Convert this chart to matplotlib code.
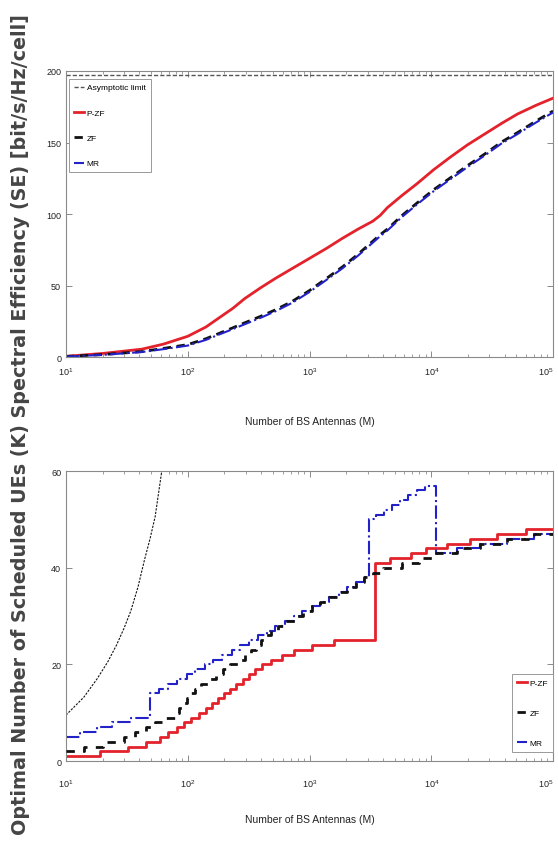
import matplotlib
matplotlib.use("Agg")
import matplotlib.pyplot as plt
import matplotlib.transforms as mtransforms
from matplotlib.ticker import LogLocator, NullFormatter, FixedLocator

plt.rcParams['font.family'] = ['Liberation Sans Narrow', 'Liberation Sans', 'DejaVu Sans']
plt.rcParams['mathtext.fontset'] = 'custom'
plt.rcParams['mathtext.rm'] = 'Liberation Sans'
plt.rcParams['mathtext.it'] = 'Liberation Sans'

# ---------------- Spectral efficiency vs. number of antennas ----------------
se_M = [10, 20, 42, 63, 100, 141, 178, 234, 295, 398, 525, 724, 1000, 1380, 1862,
        2512, 3311, 3802, 4365, 5754, 7586, 10471, 14454, 19953, 27542, 38019,
        51286, 72444, 100000]
se_pzf = [0.5, 2.5, 5.5, 9, 14.5, 21, 27, 34, 41, 48.5, 55, 62, 69, 76, 83, 89.5,
          95, 99, 104.5, 113, 121, 131, 140, 148.5, 156, 163.5, 170, 176, 181]
se_zf = [0.4, 1.7, 3.8, 6, 8.7, 12.8, 16.3, 20.4, 24, 28.5, 33, 39, 46.5, 55, 63,
         72, 81, 85.5, 89.5, 99, 107.5, 117, 125.5, 134, 142, 150.5, 157, 165, 172]
se_mr = [0.3, 1.5, 3.5, 5.5, 8, 12, 15.5, 19.5, 23, 27.5, 32, 38, 45.5, 54, 62, 71,
         80, 84.5, 88.5, 98, 106.5, 116, 124.5, 133, 141, 149.5, 156, 164, 171]
se_limit = 197

# ---------------- Optimal number of scheduled UEs ----------------
k_pzf_M = [10, 19, 32, 45, 59, 69, 81, 93, 107, 123, 140, 158, 178, 200, 224, 251,
           282, 316, 355, 407, 479, 589, 741, 1047, 1585, 3467, 4571, 6761, 9120,
           13490, 20893, 34674, 60256]
k_pzf = [1, 2, 3, 4, 5, 6, 7, 8, 9, 10, 11, 12, 13, 14, 15, 16, 17, 18, 19, 20, 21,
         22, 23, 24, 25, 41, 42, 43, 44, 45, 46, 47, 48]

k_zf_M = [10, 14, 20, 30, 37, 45, 54, 65, 78, 85, 91, 98, 105, 115, 129, 148, 170,
          195, 224, 257, 295, 331, 363, 398, 437, 479, 550, 646, 759, 891, 1047,
          1230, 1445, 1738, 2042, 2399, 2818, 3311, 3981, 5754, 7943, 10965, 16218,
          25119, 41687, 69183]
k_zf = [2, 3, 4, 5, 6, 7, 8, 9, 10, 11, 12, 13, 14, 15, 16, 17, 18, 19, 20, 21, 22,
        23, 24, 25, 26, 27, 28, 29, 30, 31, 32, 33, 34, 35, 36, 37, 38, 39, 40, 41,
        42, 43, 44, 45, 46, 47]

k_mr_M = [10, 13, 18, 24, 34, 49, 58, 69, 81, 98, 115, 138, 162, 191, 229, 269, 316,
          380, 447, 525, 631, 741, 871, 1047, 1230, 1445, 1738, 2042, 2399, 2818,
          3090, 3548, 4074, 4786, 5495, 6457, 7586, 8913, 10965, 16218, 25119,
          41687, 69183]
k_mr = [5, 6, 7, 8, 9, 14, 15, 16, 17, 18, 19, 20, 21, 22, 23, 24, 25, 26, 27, 28,
        29, 30, 31, 32, 33, 34, 35, 36, 37, 38, 50, 51, 52, 53, 54, 55, 56, 57, 43,
        44, 45, 46, 47]

k_limit_M = [10, 14, 18, 22, 26, 30, 34, 39, 44, 49, 54, 58, 62, 66]
k_limit = [9.5, 13.2, 17, 20.5, 24, 27.5, 31, 36, 41.5, 46, 50.6, 56, 61, 65]

M_MAX = 100000
x_tick_labels = [r'$10^1$', r'$10^2$', r'$10^3$', r'$10^4$', r'$10^5$']

RED = '#e4222b'
BLUE = '#2222c8'
BLACK = '#111111'
SPINE = '#8a8a8a'

fig = plt.figure(figsize=(5.58, 8.45), dpi=100)
ax1 = fig.add_axes([0.1183, 0.5763, 0.8728, 0.3385])
ax2 = fig.add_axes([0.1183, 0.0982, 0.8728, 0.3432])


def style_axes(ax, tick_pad, label_pad):
    ax.set_xscale('log')
    ax.set_xlim(10, M_MAX)
    ax.xaxis.set_major_locator(FixedLocator([1e1, 1e2, 1e3, 1e4, 1e5]))
    ax.set_xticklabels(x_tick_labels)
    ax.xaxis.set_minor_locator(LogLocator(base=10, subs=range(2, 10)))
    ax.xaxis.set_minor_formatter(NullFormatter())
    ax.tick_params(which='both', direction='in', top=True, right=True,
                   color='#777777', labelsize=6.5, labelcolor='#222222')
    ax.tick_params(which='major', length=4, width=0.6)
    ax.tick_params(which='minor', length=2.5, width=0.5)
    ax.tick_params(axis='x', pad=tick_pad)
    for s in ax.spines.values():
        s.set_color(SPINE)
        s.set_linewidth(0.8)
    # keep the last decade label inside the canvas
    last = ax.get_xticklabels()[-1]
    last.set_transform(last.get_transform() +
                       mtransforms.ScaledTranslation(-5 / 72, 0, fig.dpi_scale_trans))
    ax.set_xlabel('Number of BS Antennas (M)', fontsize=7.5, color='#222222',
                  labelpad=label_pad)


# Top panel: sum spectral efficiency
ax1.axhline(se_limit, color='#555555', lw=1.0, ls=(0, (3, 1.5)),
            label='Asymptotic limit')
ax1.plot(se_M, se_pzf, color=RED, lw=2.0, label='P-ZF')
ax1.plot(se_M, se_zf, color=BLACK, lw=2.0, ls=(0, (3, 2)), label='ZF')
ax1.plot(se_M, se_mr, color=BLUE, lw=1.5, ls='-.', label='MR')
ax1.set_ylim(0, 200)
ax1.set_yticks([0, 50, 100, 150, 200])
style_axes(ax1, tick_pad=6, label_pad=28)
leg1 = ax1.legend(loc='upper left', bbox_to_anchor=(0.0, 0.985), fontsize=6,
                  handlelength=1.2, handletextpad=0.3, labelspacing=2.1,
                  borderpad=0.6, fancybox=False, framealpha=1.0,
                  borderaxespad=0.4)
leg1.get_frame().set_edgecolor('#999999')
leg1.get_frame().set_linewidth(0.7)

# Bottom panel: optimal number of scheduled UEs
ax2.plot(k_limit_M, k_limit, color=BLACK, lw=0.8, ls=(0, (2, 1.2)))
ax2.step(k_pzf_M + [M_MAX], k_pzf + [k_pzf[-1]], where='post', color=RED,
         lw=2.0, label='P-ZF')
ax2.step(k_mr_M + [M_MAX], k_mr + [k_mr[-1]], where='post', color=BLUE,
         lw=1.5, ls='-.', label='MR', zorder=2)
ax2.step(k_zf_M + [M_MAX], k_zf + [k_zf[-1]], where='post', color=BLACK,
         lw=2.0, ls=(0, (3, 3)), label='ZF', zorder=3)
ax2.set_ylim(0, 60)
ax2.set_yticks([0, 20, 40, 60])
style_axes(ax2, tick_pad=12, label_pad=18)
h, l = ax2.get_legend_handles_labels()
order = [l.index('P-ZF'), l.index('ZF'), l.index('MR')]
leg2 = ax2.legend([h[i] for i in order], [l[i] for i in order],
                  loc='lower right', bbox_to_anchor=(1.0, 0.03), fontsize=6,
                  handlelength=1.2, handletextpad=0.3, labelspacing=2.7,
                  borderpad=0.6, fancybox=False, framealpha=1.0,
                  borderaxespad=0.0)
leg2.get_frame().set_edgecolor('#999999')
leg2.get_frame().set_linewidth(0.7)

# Shared vertical label along the full left edge
fig.text(0.036, 0.497,
         'Optimal Number of Scheduled UEs (K) Spectral Efficiency (SE) [bit/s/Hz/cell]',
         rotation=90, ha='center', va='center', fontsize=13.8,
         fontweight='bold', color='#454545', family=['DejaVu Sans'])

fig.savefig('out.png', dpi=100)
